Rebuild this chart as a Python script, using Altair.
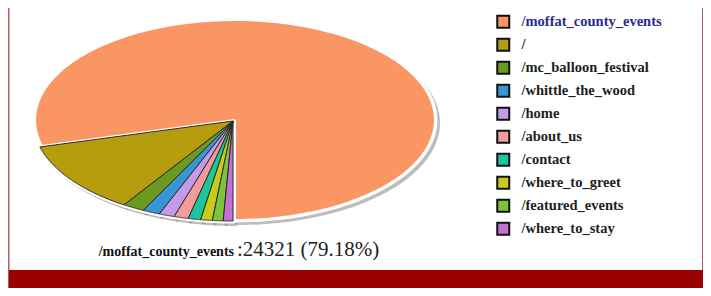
import altair as alt
import pandas as pd

categories = ["/moffat_county_events", "/", "/mc_balloon_festival", "/whittle_the_wood",
              "/home", "/about_us", "/contact", "/where_to_greet", "/featured_events",
              "/where_to_stay"]
hits = [24321, 3580, 540, 430, 385, 355, 310, 290, 265, 240]
colors = ["#fa9664", "#b59d0e", "#6c9a20", "#3896d4", "#c39bea", "#f29c9c",
          "#1ec49b", "#c9cb1c", "#7ec43a", "#c36fd4"]

W, H = 695, 280
CX, CY, RX, RY = 225, 113, 200, 100
N = 90

slices = pd.DataFrame({"cat": categories, "value": hits, "idx": list(range(len(categories)))})
slices["k"] = [list(range(N + 3))] * len(categories)

xs = alt.X("px:Q", scale=alt.Scale(domain=[0, W], nice=False, zero=False), axis=None)
ys = alt.Y("py:Q", scale=alt.Scale(domain=[0, H], nice=False, zero=False, reverse=True), axis=None)

base = (
    alt.Chart(slices)
    .transform_joinaggregate(total="sum(value)")
    .transform_window(cum="sum(value)", sort=[alt.SortField("idx")], frame=[None, 0])
    .transform_calculate(
        a0="PI - 2*PI*(datum.cum - datum.value)/datum.total",
        a1="PI - 2*PI*datum.cum/datum.total",
    )
    .transform_flatten(["k"])
    .transform_calculate(
        t=f"datum.a0 + (datum.a1 - datum.a0)*(datum.k - 1)/{N}",
        apex=f"datum.k == 0 || datum.k == {N + 2}",
    )
    .transform_calculate(
        px=f"{CX} + (datum.idx == 0 ? 2 : 0) + (datum.apex ? 0 : {RX}*sin(datum.t))",
        py=f"{CY} + (datum.idx == 0 ? -1 : 0) + (datum.apex ? 0 : -{RY}*cos(datum.t))",
    )
)

shadow = base.mark_line(fill="#6a6a6a", stroke="#909090", strokeWidth=4, opacity=0.6,
                        xOffset=3, yOffset=3, strokeJoin="round").encode(
    x=xs, y=ys, order=alt.Order("k:Q"), detail="cat:N")

rim = base.mark_line(fill="white", stroke="white", strokeWidth=5, strokeJoin="round").encode(
    x=xs, y=ys, order=alt.Order("k:Q"), detail="cat:N")

pie = base.mark_line(strokeJoin="round").encode(
    x=xs, y=ys, order=alt.Order("k:Q"),
    fill=alt.Fill("cat:N", sort=categories,
                  scale=alt.Scale(domain=categories, range=colors),
                  legend=alt.Legend(
                      title=None, orient="none", legendX=488, legendY=6.5,
                      symbolType="square", symbolSize=144, symbolStrokeColor="#111",
                      symbolStrokeWidth=2, symbolOpacity=1,
                      labelFont="Liberation Serif", labelFontSize=14.5, labelFontWeight="bold",
                      labelOffset=11, rowPadding=2, labelLimit=300,
                      labelColor=alt.ExprRef("datum.label === '/moffat_county_events' ? '#2a2a8c' : '#1e1e1e'"),
                  )),
    stroke=alt.condition(alt.datum.idx == 0, alt.value("white"), alt.value("#2a2a2a")),
    strokeWidth=alt.condition(alt.datum.idx == 0, alt.value(2), alt.value(1)),
)

name_text = alt.Chart(slices).transform_filter(alt.datum.idx == 0).mark_text(
    align="right", baseline="alphabetic", font="Liberation Serif", fontWeight="bold",
    fontSize=14, color="#111").encode(text="cat:N", x=alt.value(226), y=alt.value(248))

val_text = (
    alt.Chart(slices)
    .transform_joinaggregate(total="sum(value)")
    .transform_filter(alt.datum.idx == 0)
    .transform_calculate(lab="':' + datum.value + ' (' + format(datum.value/datum.total*100, '.2f') + '%)'")
    .mark_text(align="left", baseline="alphabetic", font="Liberation Serif", fontSize=21, color="#222")
    .encode(text="lab:N", x=alt.value(229), y=alt.value(248))
)

frame = alt.Chart(slices).mark_rect(fill="white", stroke="#b06060", strokeWidth=1).encode(
    x=alt.value(1), x2=alt.value(W - 0.5), y=alt.value(-5), y2=alt.value(H + 5))

bar = alt.Chart(slices).mark_rect(fill="#990000").encode(
    x=alt.value(1), x2=alt.value(W), y=alt.value(262), y2=alt.value(H))

chart = alt.layer(frame, bar, shadow, rim, pie, name_text, val_text).properties(
    width=W, height=H, padding=0, autosize=alt.AutoSizeParams(type="none"),
    background="white",
).configure_view(stroke=None)

chart.save("out.html", embed_options={"renderer": "svg", "actions": False})
